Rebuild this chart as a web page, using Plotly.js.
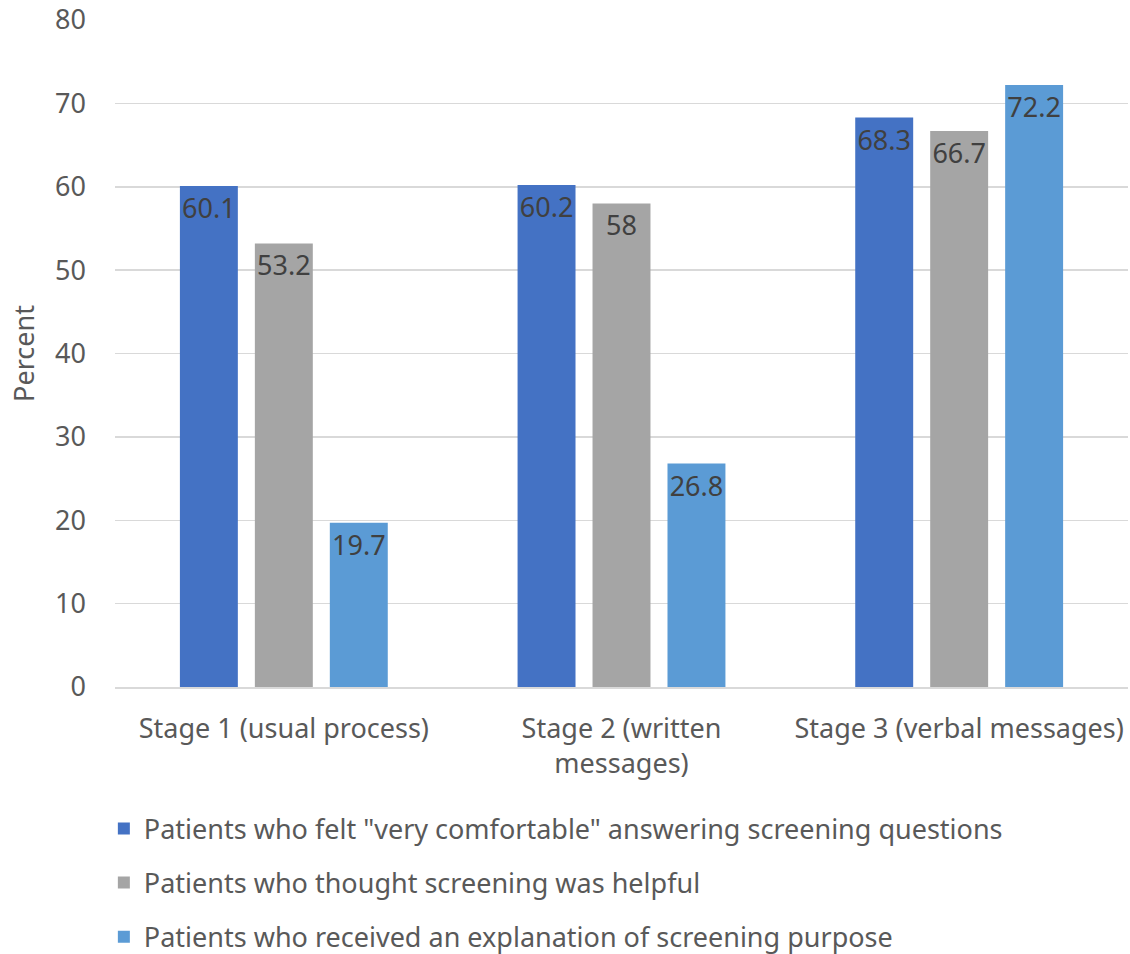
<!DOCTYPE html>
<html>
<head>
<meta charset="utf-8">
<script src="https://cdn.plot.ly/plotly-3.0.1.min.js"></script>
<style>
  html, body { margin: 0; padding: 0; background: #ffffff; }
  #chart { width: 1130px; height: 954px; }
</style>
</head>
<body>
<div id="chart"></div>
<script>
// Survey results by stage
const stages = ['Stage 1 (usual process)', 'Stage 2 (written<br>messages)', 'Stage 3 (verbal messages)'];

const comfortableName = 'Patients who felt "very comfortable" answering screening questions';
const helpfulName = 'Patients who thought screening was helpful';
const explainedName = 'Patients who received an explanation of screening purpose';

const comfortable = [60.1, 60.2, 68.3];
const helpful = [53.2, 58, 66.7];
const explained = [19.7, 26.8, 72.2];

const yTicks = [0, 10, 20, 30, 40, 50, 60, 70, 80];

const fontFamily = '"Noto Sans", "Open Sans", sans-serif';
const textGrey = '#595959';

function series(name, values, color, group) {
  return {
    type: 'bar',
    name: name,
    x: stages,
    y: values,
    text: values.map(v => String(v)),
    textposition: 'inside',
    insidetextanchor: 'end',
    textangle: 0,
    constraintext: 'none',
    cliponaxis: false,
    textfont: { family: fontFamily, size: 27, color: '#404040' },
    marker: { color: color },
    legendgroup: group,
    hoverinfo: 'name+y'
  };
}

const data = [
  series(comfortableName, comfortable, '#4472C4', 'a'),
  series(helpfulName, helpful, '#A5A5A5', 'b'),
  series(explainedName, explained, '#5B9BD5', 'c')
];

const layout = {
  width: 1130,
  height: 954,
  margin: { l: 115, r: 2, t: 20, b: 267, autoexpand: false },
  paper_bgcolor: '#ffffff',
  plot_bgcolor: '#ffffff',
  font: { family: fontFamily, color: textGrey, size: 27 },
  barmode: 'group',
  bargap: 0.334,
  bargroupgap: 0.227,
  xaxis: {
    showgrid: false,
    showline: true,
    linecolor: '#d9d9d9',
    linewidth: 1.5,
    ticks: '',
    tickfont: { family: fontFamily, size: 27, color: textGrey },
    ticklabelstandoff: 17,
    automargin: false,
    fixedrange: true
  },
  yaxis: {
    range: [0, 80],
    tickvals: yTicks,
    ticktext: yTicks.map(String),
    showgrid: true,
    gridcolor: '#d9d9d9',
    gridwidth: 1.5,
    zeroline: false,
    showline: false,
    ticks: '',
    tickfont: { family: fontFamily, size: 27, color: textGrey },
    ticklabelstandoff: 28,
    title: { text: 'Percent', font: { family: fontFamily, size: 27, color: textGrey }, standoff: 12 },
    automargin: false,
    fixedrange: true
  },
  showlegend: true,
  legend: {
    orientation: 'v',
    x: -0.011,
    xanchor: 'left',
    y: -0.176,
    yanchor: 'top',
    traceorder: 'grouped',
    tracegroupgap: 16,
    font: { family: fontFamily, size: 27, color: textGrey },
    bgcolor: 'rgba(0,0,0,0)'
  }
};

Plotly.newPlot('chart', data, layout, { displayModeBar: false, staticPlot: true });
</script>
</body>
</html>
